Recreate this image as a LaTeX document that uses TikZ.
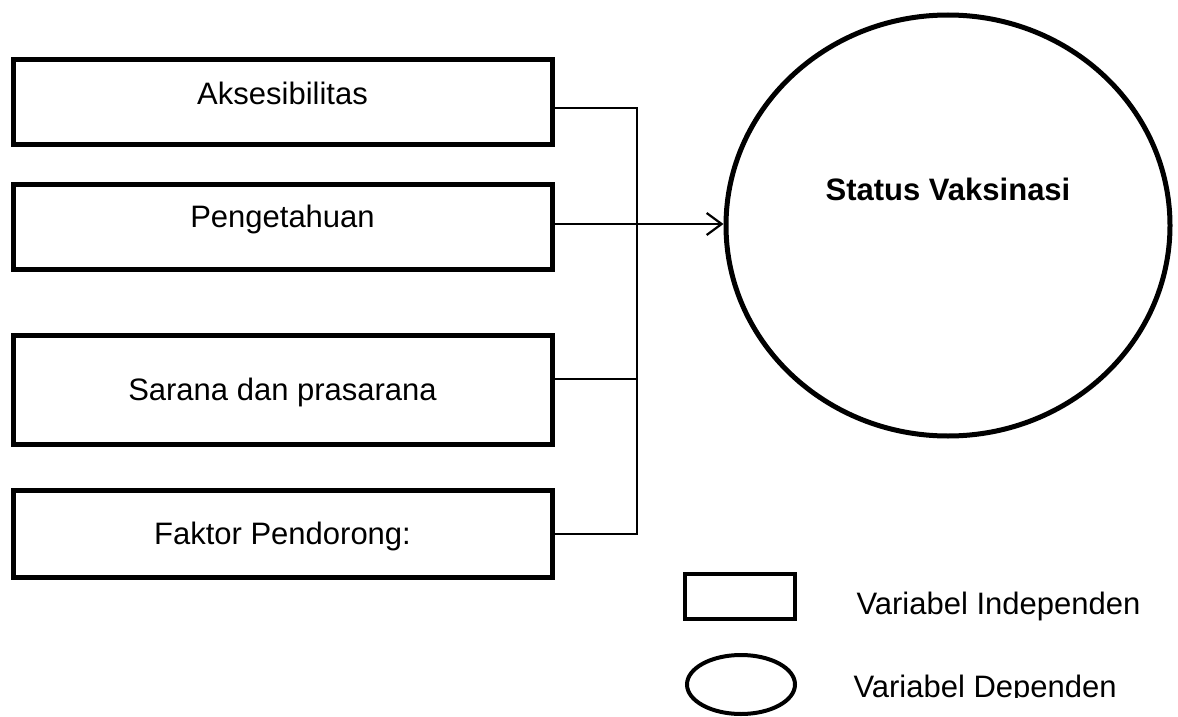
\documentclass[tikz,border=0pt]{standalone}
\usepackage{fontspec}
\setmainfont{Liberation Sans}
\usetikzlibrary{shapes.geometric,arrows.meta}
\begin{document}
\begin{tikzpicture}[x=1pt,y=-1pt,
  every node/.style={font=\fontsize{31}{37}\selectfont},
  varbox/.style={draw, line width=5pt, rectangle, minimum width=539pt, inner sep=0pt, text height=22pt, text depth=0pt},
  conn/.style={line width=2.2pt},
  legbox/.style={draw, line width=4pt, rectangle, inner sep=0pt},
  legell/.style={draw, line width=4pt, ellipse, inner sep=0pt}
]
\useasboundingbox (0,0) rectangle (1178,717);
\fill[white] (0,0) rectangle (1178,717);

% independent variable boxes
\node[varbox, minimum height=84.5pt, text depth=16pt] (b1) at (282.5,101.75) {Aksesibilitas};
\node[varbox, minimum height=85pt, text depth=20pt] (b2) at (282.5,226.5) {Pengetahuan};
\node[varbox, minimum height=108.5pt] (b3) at (282.5,389.75) {Sarana dan prasarana};
\node[varbox, minimum height=87pt] (b4) at (282.5,533.5) {Faktor Pendorong:};

% dependent variable
\node[draw, ellipse, line width=5pt, minimum width=444pt, minimum height=421pt, inner sep=0pt,
      font=\fontsize{31}{37}\selectfont\bfseries, text height=22pt, text depth=72pt] (circ) at (948,225.5) {Status Vaksinasi};

% junction coordinates
\coordinate (j1) at (637,108);
\coordinate (j2) at (637,224);
\coordinate (j3) at (637,379);
\coordinate (j4) at (637,534);

% connectors
\draw[conn] (b1.east |- j1) -- (j1) -- (j4) -- (b4.east |- j4);
\draw[conn] (b3.east |- j3) -- (j3);
\draw[conn, -{Straight Barb[length=15pt,width=22pt,line width=2.2pt]}] (b2.east |- j2) -- (circ.west |- j2);

% legend
\node[legbox, minimum width=110pt, minimum height=45pt] (lrect) at (740,596.5) {};
\node[anchor=base west] (ltext1) at (853,614) {Variabel Independen};
\node[legell, minimum width=108pt, minimum height=59pt] (lell) at (741,684.5) {};
\begin{scope}
  \clip (820,640) rectangle (1178,697.5);
  \node[anchor=base west] (ltext2) at (850,697) {Variabel Dependen};
\end{scope}
\end{tikzpicture}
\end{document}
